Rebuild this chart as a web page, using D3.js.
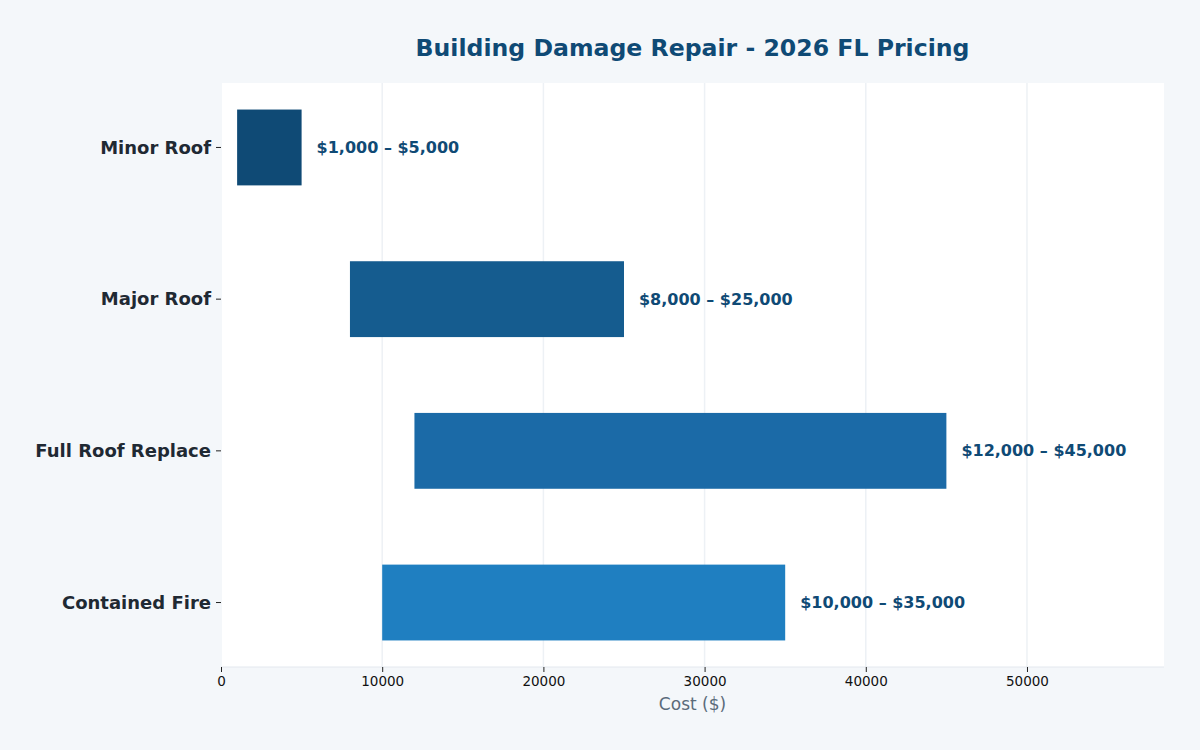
<!DOCTYPE html>
<html>
<head>
<meta charset="utf-8">
<script src="https://cdn.jsdelivr.net/npm/d3@7"></script>
<style>
  body { margin: 0; background: #f4f7fa; }
  svg { display: block; font-family: "DejaVu Sans", sans-serif; }
</style>
</head>
<body>
<svg id="chart"></svg>
<script>
// chart data
const categories = ['Minor Roof', 'Major Roof', 'Full Roof Replace', 'Contained Fire'];
const lowCost = [1000, 8000, 12000, 10000];
const highCost = [5000, 25000, 45000, 35000];
const barColors = ['#0f4a75', '#155c8f', '#1b6aa7', '#1f7fc1'];
const xTicks = [0, 10000, 20000, 30000, 40000, 50000];

const width = 1200, height = 750;
const margin = { top: 83, right: 36, bottom: 83, left: 221 };
const plotW = width - margin.left - margin.right;
const plotH = height - margin.top - margin.bottom;

const svg = d3.select('#chart').attr('width', width).attr('height', height);
svg.append('rect').attr('width', width).attr('height', height).attr('fill', '#f4f7fa');

const g = svg.append('g').attr('transform', `translate(${margin.left},${margin.top})`);
g.append('rect').attr('x', 1).attr('width', plotW - 1).attr('height', plotH).attr('fill', '#ffffff');

const x = d3.scaleLinear().domain([0, d3.max(highCost) * 1.3]).range([0, plotW]);
// matplotlib-like barh: index positions, bar height 0.5, 5% margins
const y = d3.scaleLinear().domain([-0.425, categories.length - 1 + 0.425]).range([0, plotH]);
const barH = y(0.5) - y(0);

// grid
g.selectAll('.grid').data(xTicks.slice(1)).enter().append('line')
  .attr('x1', d => x(d)).attr('x2', d => x(d))
  .attr('y1', 0).attr('y2', plotH)
  .attr('stroke', '#edf1f5').attr('stroke-width', 1.5);

// bottom spine
g.append('line').attr('x1', 0).attr('x2', plotW).attr('y1', plotH).attr('y2', plotH)
  .attr('stroke', '#e3e8ee').attr('stroke-width', 1);

// bars
g.selectAll('.bar').data(categories).enter().append('rect')
  .attr('x', (d, i) => x(lowCost[i]))
  .attr('width', (d, i) => x(highCost[i]) - x(lowCost[i]))
  .attr('y', (d, i) => y(i) - barH / 2)
  .attr('height', barH)
  .attr('fill', (d, i) => barColors[i]);

// value labels
const fmt = d3.format(',');
g.selectAll('.val').data(categories).enter().append('text')
  .attr('x', (d, i) => x(highCost[i]) + 15)
  .attr('y', (d, i) => y(i))
  .attr('dy', '0.35em')
  .attr('fill', '#0f4a75')
  .attr('font-size', 16).attr('font-weight', 'bold')
  .text((d, i) => `$${fmt(lowCost[i])} \u2013 $${fmt(highCost[i])}`);

// x axis
const xAxis = g.append('g').attr('transform', `translate(0,${plotH})`)
  .call(d3.axisBottom(x).tickValues(xTicks).tickFormat(d3.format('d')).tickSize(5).tickPadding(4));
xAxis.select('.domain').remove();
xAxis.selectAll('line').attr('stroke', '#222');
xAxis.selectAll('text').attr('font-size', 13.5).attr('fill', '#111').attr('font-family', '"DejaVu Sans", sans-serif');

// y axis labels
const yAxis = g.append('g');
yAxis.selectAll('.tick').data(categories).enter().append('line')
  .attr('x1', -5).attr('x2', 0)
  .attr('y1', (d, i) => y(i)).attr('y2', (d, i) => y(i))
  .attr('stroke', '#222');
yAxis.selectAll('.lab').data(categories).enter().append('text')
  .attr('x', -10).attr('y', (d, i) => y(i)).attr('dy', '0.35em')
  .attr('text-anchor', 'end')
  .attr('font-size', 18).attr('font-weight', 'bold').attr('fill', '#1f2933')
  .text(d => d);

// axis title
svg.append('text')
  .attr('x', margin.left + plotW / 2).attr('y', 710)
  .attr('text-anchor', 'middle')
  .attr('font-size', 17).attr('fill', '#5b6b7b')
  .text('Cost ($)');

// chart title
svg.append('text')
  .attr('x', margin.left + plotW / 2).attr('y', 56)
  .attr('text-anchor', 'middle')
  .attr('font-size', 23.6).attr('font-weight', 'bold').attr('fill', '#0f4a75')
  .text('Building Damage Repair - 2026 FL Pricing');
</script>
</body>
</html>
